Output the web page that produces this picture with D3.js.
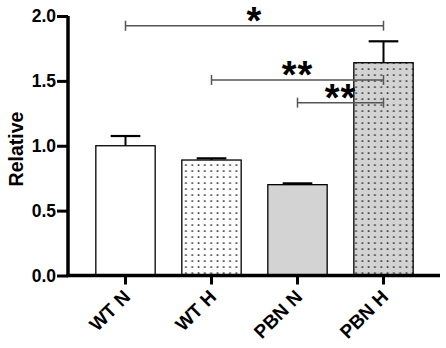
<!DOCTYPE html>
<html>
<head>
<meta charset="utf-8">
<script src="https://cdn.jsdelivr.net/npm/d3@7"></script>
<style>
  body { margin: 0; background: #fff; }
  text { font-family: Arial, "Liberation Sans", sans-serif; font-weight: bold; }
</style>
</head>
<body>
<div id="chart"></div>
<script>
// chart data
var categories = ["WT N", "WT H", "PBN N", "PBN H"];
var means = [1.00, 0.89, 0.70, 1.64];
var errors = [0.075, 0.013, 0.01, 0.165];
var yTicks = [0.0, 0.5, 1.0, 1.5, 2.0];
// significance brackets: from, to, label, height
var sigFrom = ["WT N", "WT H", "PBN N"];
var sigTo = ["PBN H", "PBN H", "PBN H"];
var sigLabel = ["*", "**", "**"];
var sigLevel = [1.925, 1.507, 1.332];

var svgWidth = 446;
var svgHeight = 348;

var svg = d3.select("#chart")
  .append("svg")
  .attr("width", svgWidth)
  .attr("height", svgHeight);

// dotted pattern for the hypoxia bars
var defs = svg.append("defs");
function dots(id, bg) {
  var p = defs.append("pattern")
    .attr("id", id)
    .attr("patternUnits", "userSpaceOnUse")
    .attr("width", 6.3)
    .attr("height", 6);
  p.append("rect").attr("width", 6.3).attr("height", 6).attr("fill", bg);
  p.append("rect").attr("x", 2.4).attr("y", 2.3).attr("width", 1.7).attr("height", 1.6).attr("fill", "#333");
}
dots("dotsWhite", "#fff");
dots("dotsGrey", "#d3d3d3");
var barFill = ["#fff", "url(#dotsWhite)", "#d3d3d3", "url(#dotsGrey)"];

var x = d3.scaleBand()
  .domain(categories)
  .range([82.5, 426.5])
  .paddingInner(0.31)
  .paddingOuter(0.155);

var y = d3.scaleLinear()
  .domain([0, 2])
  .range([275.5, 16]);

var g = svg.append("g");

// bars
g.selectAll(".bar")
  .data(categories)
  .enter()
  .append("rect")
  .attr("class", "bar")
  .attr("x", d => x(d))
  .attr("width", x.bandwidth())
  .attr("y", (d, i) => y(means[i]))
  .attr("height", (d, i) => y(0) - y(means[i]))
  .attr("fill", (d, i) => barFill[i])
  .attr("stroke", "#000")
  .attr("stroke-width", 1.3);

// upper error bars
var cx = d => x(d) + x.bandwidth() / 2;
g.selectAll(".err")
  .data(categories)
  .enter()
  .append("line")
  .attr("x1", cx).attr("x2", cx)
  .attr("y1", (d, i) => y(means[i]))
  .attr("y2", (d, i) => y(means[i] + errors[i]))
  .attr("stroke", "#000")
  .attr("stroke-width", 2);
g.selectAll(".cap")
  .data(categories)
  .enter()
  .append("line")
  .attr("x1", d => cx(d) - x.bandwidth() / 4)
  .attr("x2", d => cx(d) + x.bandwidth() / 4)
  .attr("y1", (d, i) => y(means[i] + errors[i]))
  .attr("y2", (d, i) => y(means[i] + errors[i]))
  .attr("stroke", "#000")
  .attr("stroke-width", 2.2);

// y axis
var yAxis = d3.axisLeft(y)
  .tickValues(yTicks)
  .tickFormat(d3.format(".1f"))
  .tickSize(11)
  .tickPadding(1);
var ya = g.append("g")
  .attr("transform", "translate(68,0)")
  .call(yAxis);
ya.select(".domain").attr("stroke-width", 3.5).attr("d", "M0,16V276");
ya.selectAll(".tick line").attr("stroke-width", 3);
ya.selectAll(".tick text")
  .attr("font-size", 17.5)
  .attr("font-family", "Arial, 'Liberation Sans', sans-serif")
  .attr("font-weight", "bold")
  .attr("fill", "#000");

// x axis
var xAxis = d3.axisBottom(x).tickSize(9).tickFormat("");
var xa = g.append("g")
  .attr("transform", "translate(0,275.5)")
  .call(xAxis);
xa.select(".domain").attr("stroke-width", 3.5).attr("d", "M66.5,0H440");
xa.selectAll(".tick line").attr("stroke-width", 3);

// rotated category labels
g.selectAll(".xlab")
  .data(categories)
  .enter()
  .append("text")
  .attr("text-anchor", "end")
  .attr("font-size", 19)
  .attr("transform", d => `translate(${cx(d) + 6}, 298) rotate(-45)`)
  .text(d => d);

// y label
g.append("text")
  .attr("transform", "translate(23,149) rotate(-90)")
  .attr("text-anchor", "middle")
  .attr("font-size", 19.5)
  .text("Relative");

// significance brackets
sigLabel.forEach(function(lab, i) {
  var x1 = cx(sigFrom[i]), x2 = cx(sigTo[i]), yy = y(sigLevel[i]);
  var b = g.append("g").attr("stroke", "#555").attr("stroke-width", 1.5);
  b.append("line").attr("x1", x1).attr("x2", x2).attr("y1", yy).attr("y2", yy);
  b.append("line").attr("x1", x1).attr("x2", x1).attr("y1", yy - 5).attr("y2", yy + 5);
  b.append("line").attr("x1", x2).attr("x2", x2).attr("y1", yy - 5).attr("y2", yy + 5);
  g.append("text")
    .attr("x", (x1 + x2) / 2)
    .attr("y", yy + 8)
    .attr("text-anchor", "middle")
    .attr("font-size", 38)
    .attr("letter-spacing", 1)
    .text(lab);
});
</script>
</body>
</html>
